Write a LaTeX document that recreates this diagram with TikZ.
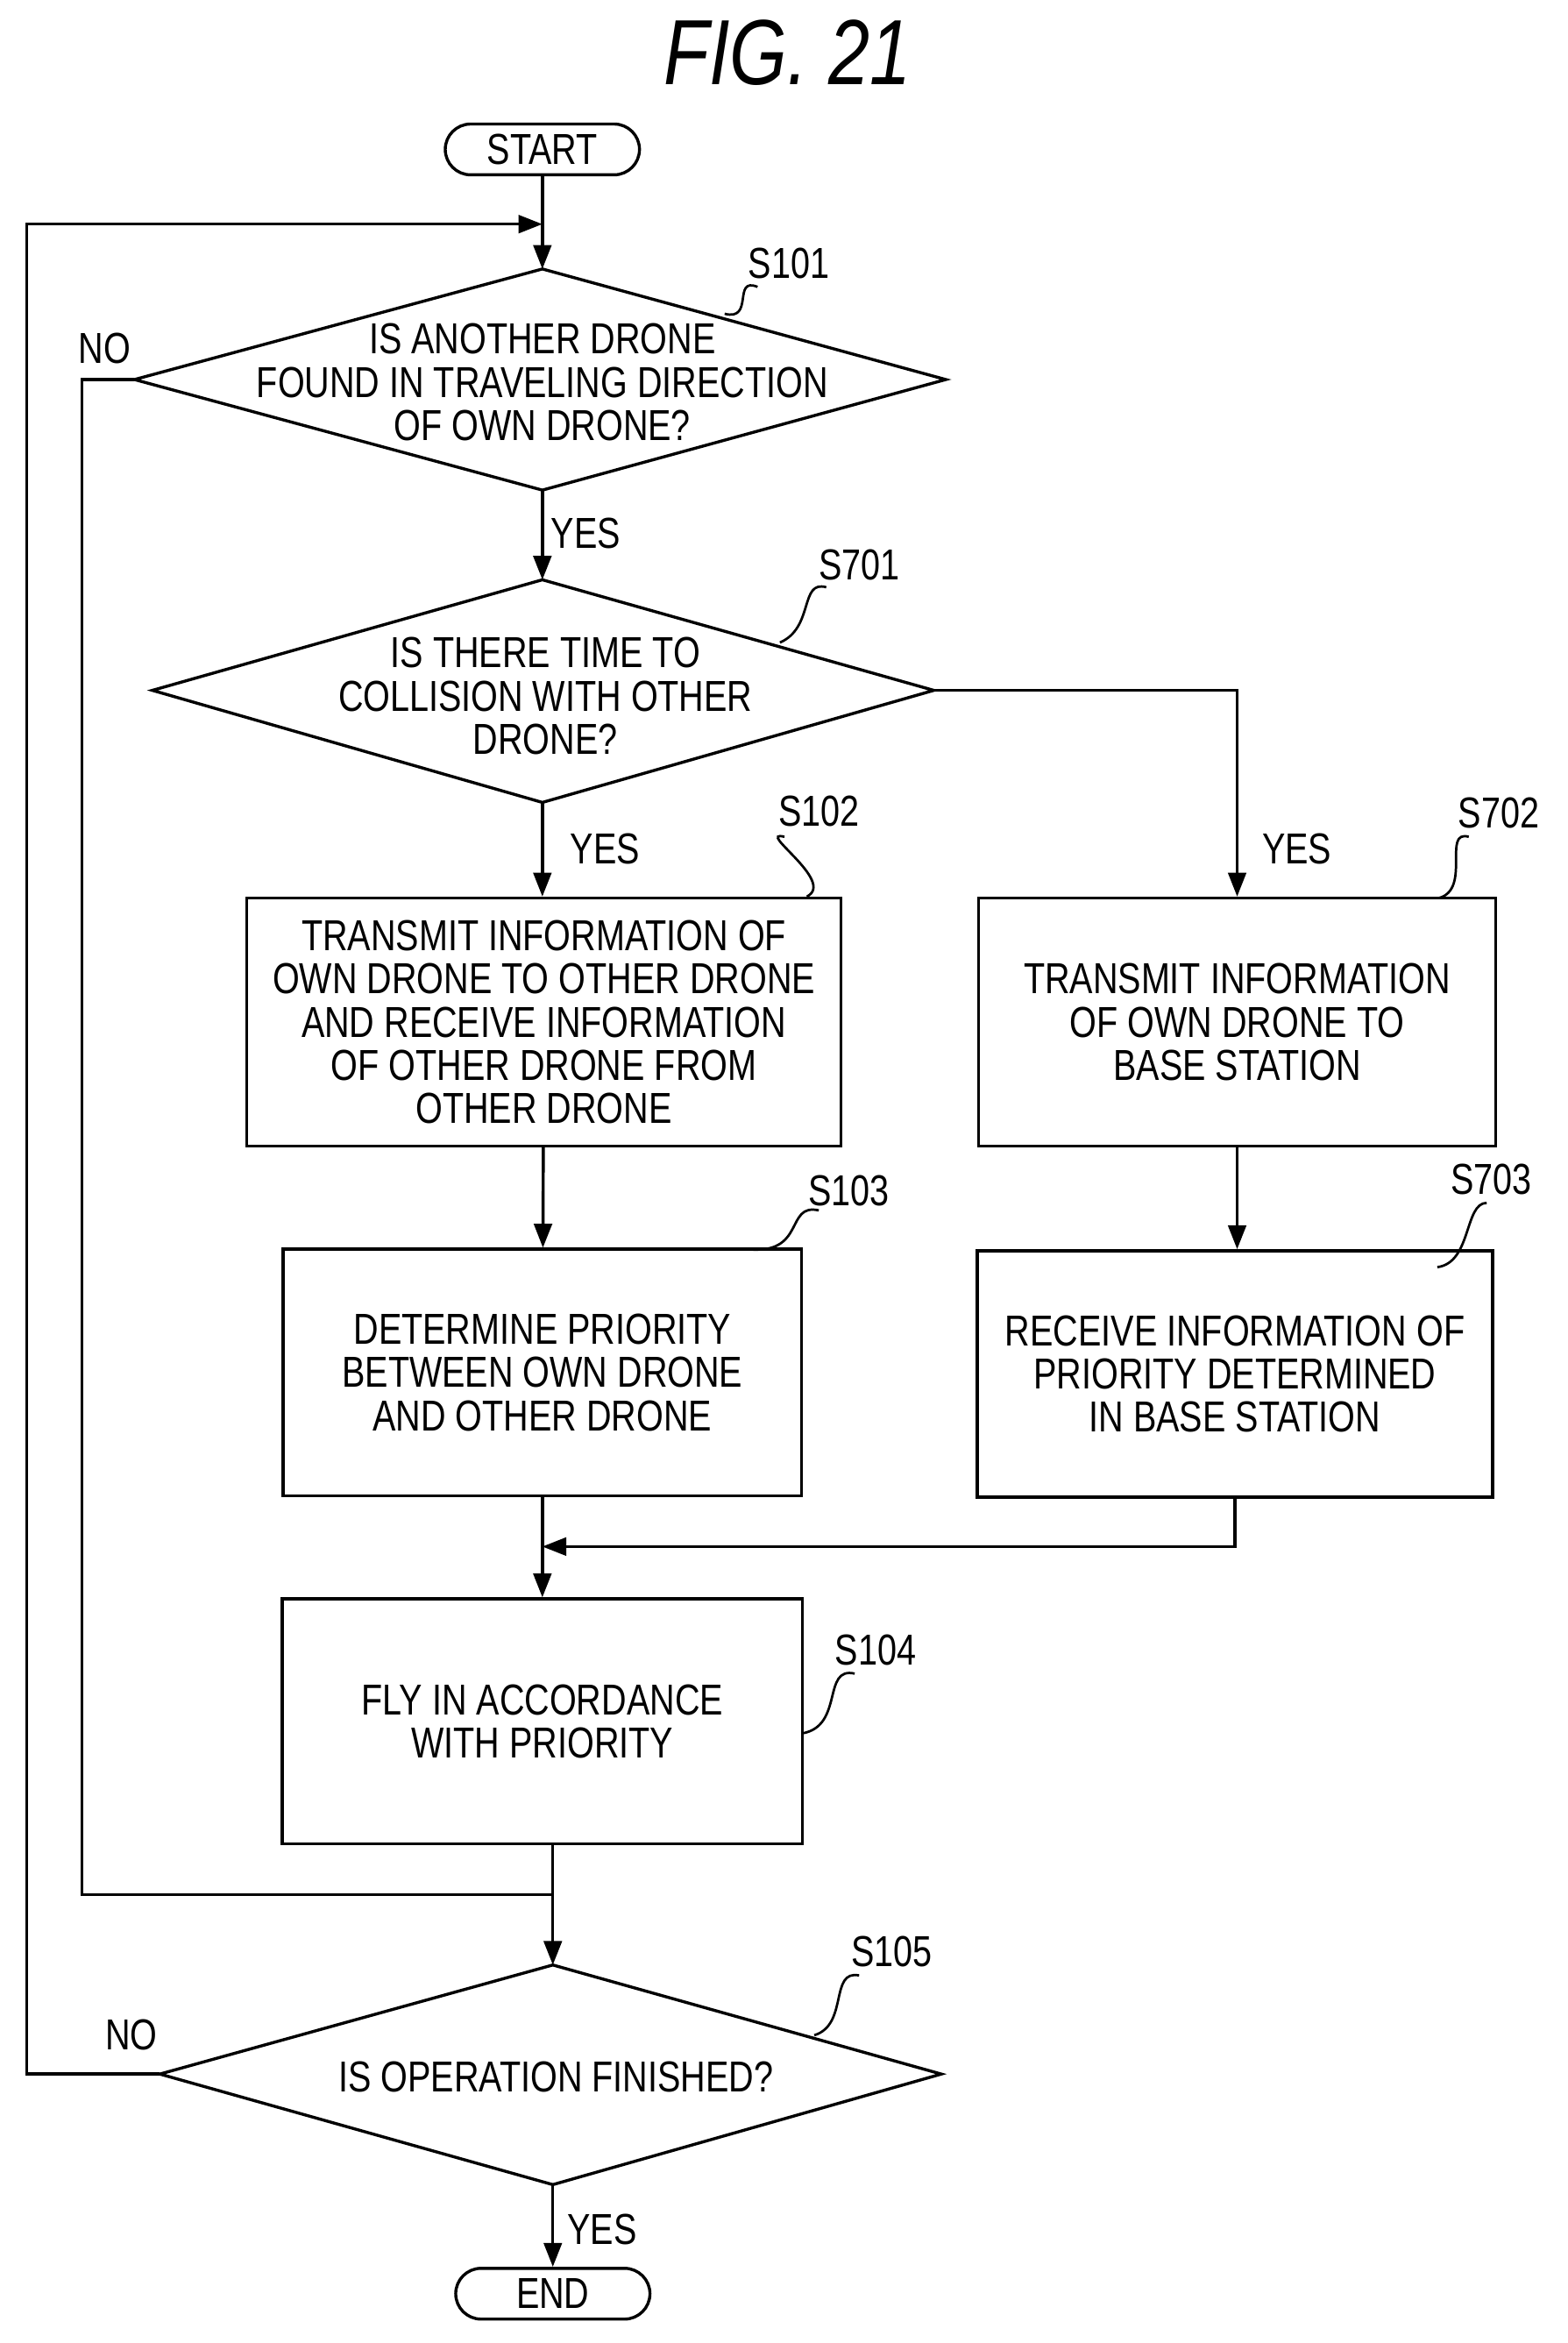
\documentclass[tikz,border=0pt]{standalone}
\usepackage{fontspec}
\setmainfont[FakeStretch=0.8]{Liberation Sans}
\usetikzlibrary{shapes.geometric,arrows.meta}
\begin{document}
\begin{tikzpicture}[x=0.5pt,y=-0.5pt,
  every node/.style={font=\fontsize{14.5}{14.5}\selectfont,align=center,inner sep=0},
  ln/.style={line width=1pt},
  ar/.style={ln,-{Triangle[length=8pt,width=6pt]}},
  box/.style={draw,line width=1pt,rectangle},
  term/.style={draw,line width=1pt,rounded corners=8.5pt,minimum height=17pt,font=\fontsize{14.5}{14.5}\selectfont},
  lab/.style={font=\fontsize{14.5}{14.5}\selectfont},
  sq/.style={line width=0.8pt}]
\useasboundingbox (0,0) rectangle (1049,1568);
\node[font=\fontsize{31}{31}\itshape\selectfont] (title) at (527,35) {FIG. 21};
\node[term,minimum width=65pt] (start) at (363,100) {START};
% diamonds
\draw[ln] (90,254) coordinate (d1w) -- (363,180) coordinate (d1n) -- (633,254) -- (363,328) coordinate (d1s) -- cycle;
\node (d1t) at (363,256) {IS ANOTHER DRONE\\FOUND IN TRAVELING DIRECTION\\OF OWN DRONE?};
\draw[ln] (102,462) -- (363,388) coordinate (d2n) -- (625,462) coordinate (d2e) -- (363,537) coordinate (d2s) -- cycle;
\node (d2t) at (365,466) {IS THERE TIME TO\\COLLISION WITH OTHER\\DRONE?};
\draw[ln] (107,1388) coordinate (d3w) -- (370,1315) coordinate (d3n) -- (630,1388) -- (370,1462) coordinate (d3s) -- cycle;
\node (d3t) at (372,1390) {IS OPERATION FINISHED?};
% boxes
\node[box,minimum width=199pt,minimum height=83pt] (s102) at (364,684) {TRANSMIT INFORMATION OF\\OWN DRONE TO OTHER DRONE\\AND RECEIVE INFORMATION\\OF OTHER DRONE FROM\\OTHER DRONE};
\node[box,minimum width=173pt,minimum height=83pt] (s702) at (828,684) {TRANSMIT INFORMATION\\OF OWN DRONE TO\\BASE STATION};
\node[box,minimum width=173.5pt,minimum height=82.5pt] (s103) at (363,918.5) {DETERMINE PRIORITY\\BETWEEN OWN DRONE\\AND OTHER DRONE};
\node[box,minimum width=172.5pt,minimum height=82.5pt] (s703) at (826.5,919.5) {RECEIVE INFORMATION OF\\PRIORITY DETERMINED\\IN BASE STATION};
\node[box,minimum width=174pt,minimum height=82pt] (s104) at (363,1152) {FLY IN ACCORDANCE\\WITH PRIORITY};
\node[term,minimum width=65pt] (end) at (370,1535) {END};
% step labels
\node[lab] (l101) at (528,176) {S101};
\node[lab] (l701) at (575,378) {S701};
\node[lab] (l102) at (548,543) {S102};
\node[lab] (l702) at (1003,544) {S702};
\node[lab] (l103) at (568,797) {S103};
\node[lab] (l703) at (998,789) {S703};
\node[lab] (l104) at (586,1104) {S104};
\node[lab] (l105) at (597,1306) {S105};
\draw[sq] (507,192) .. controls (490,185) and (505,215) .. (485,210);
\draw[sq] (553,393) .. controls (535,388) and (545,420) .. (522,430);
\draw[sq] (525,560) .. controls (505,555) and (560,590) .. (540,600);
\draw[sq] (983,560) .. controls (965,555) and (985,595) .. (963,601);
\draw[sq] (548,810) .. controls (525,805) and (540,840) .. (500,836);
\draw[sq] (995,805) .. controls (980,805) and (985,845) .. (962,848);
\draw[sq] (572,1120) .. controls (550,1115) and (565,1155) .. (537,1160);
\draw[sq] (575,1322) .. controls (555,1318) and (568,1355) .. (545,1362);
% Y/N labels
\node[lab] (no1) at (70,233) {NO};
\node[lab] (yes1) at (392,357) {YES};
\node[lab] (yes2) at (405,568) {YES};
\node[lab] (yes3) at (868,568) {YES};
\node[lab] (no2) at (88,1362) {NO};
\node[lab] (yes4) at (403,1492) {YES};
% connectors
\draw[ar] (start) -- (d1n);
\draw[ar] (d3w) -- (18,1388) -- (18,150) -- (363,150);
\draw[ar] (d1s) -- (d2n);
\draw[ar] (d2s) -- (s102.north -| d2s);
\draw[ar] (d2e) -- (828,462) -- (s702.north);
\draw[ar] (s102) -- (s103);
\draw[ar] (s702) -- (s703.north -| s702);
\draw[ar] (s103) -- (s104);
\draw[ar] (s703.south) -- (826.5,1035) -- (363,1035);
\draw[ln] (d1w) -- (55,254) -- (55,1268) -- (370,1268);
\draw[ar] (370,1234) -- (d3n);
\draw[ar] (d3s) -- (end);
\end{tikzpicture}
\end{document}
